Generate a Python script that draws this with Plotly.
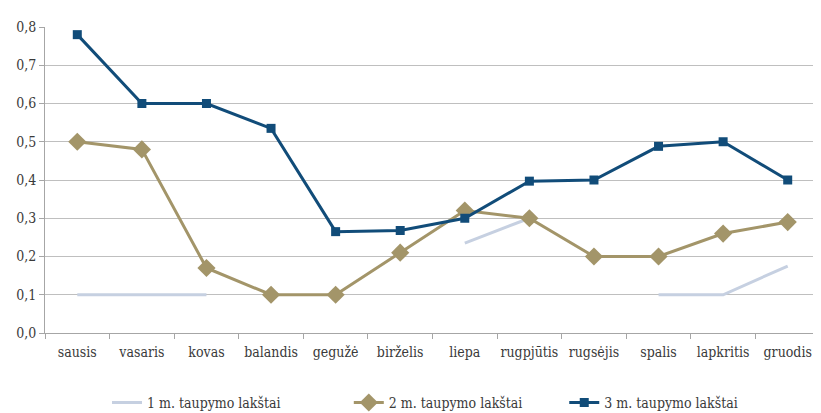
import plotly.graph_objects as go

# Data
months = ["sausis", "vasaris", "kovas", "balandis", "gegužė", "birželis",
          "liepa", "rugpjūtis", "rugsėjis", "spalis", "lapkritis", "gruodis"]
lakstai_1m = [0.1, 0.1, 0.1, None, None, None, 0.235, 0.30, None, 0.1, 0.1, 0.175]
lakstai_2m = [0.50, 0.48, 0.17, 0.10, 0.10, 0.21, 0.32, 0.30, 0.20, 0.20, 0.26, 0.29]
lakstai_3m = [0.78, 0.60, 0.60, 0.535, 0.265, 0.268, 0.30, 0.397, 0.40, 0.488, 0.50, 0.40]
y_ticks = [0.0, 0.1, 0.2, 0.3, 0.4, 0.5, 0.6, 0.7, 0.8]
y_labels = ["0,0", "0,1", "0,2", "0,3", "0,4", "0,5", "0,6", "0,7", "0,8"]

FONT = "DejaVu Serif Condensed"
TXT = "#3a3a3a"

fig = go.Figure()
fig.add_trace(go.Scatter(
    x=months, y=lakstai_1m, name="1 m. taupymo lakštai", mode="lines",
    line=dict(color="#c6d0e1", width=3), connectgaps=False, legend="legend",
))
fig.add_trace(go.Scatter(
    x=months, y=lakstai_2m, name="2 m. taupymo lakštai", mode="lines+markers",
    line=dict(color="#a39569", width=3), legend="legend2",
    marker=dict(symbol="diamond", size=14, color="#a39569"),
))
fig.add_trace(go.Scatter(
    x=months, y=lakstai_3m, name="3 m. taupymo lakštai", mode="lines+markers",
    line=dict(color="#114c79", width=3), legend="legend3",
    marker=dict(symbol="square", size=9, color="#114c79"),
))

fig.update_xaxes(
    type="category", tickson="boundaries", ticks="outside", ticklen=5,
    tickcolor="#a6a6a6", showline=True, linecolor="#a6a6a6", linewidth=1,
    showgrid=False, tickfont=dict(family=FONT, size=14, color=TXT),
    range=[-0.5, 11.5], ticklabelstandoff=6, tickangle=0,
)
fig.update_yaxes(
    range=[0, 0.8], tickvals=y_ticks, ticktext=y_labels, ticks="outside",
    ticklen=5, tickcolor="#a6a6a6", showline=True, linecolor="#a6a6a6",
    linewidth=1, gridcolor="#bfbfbf", gridwidth=1, zeroline=False,
    tickfont=dict(family=FONT, size=14, color=TXT),
)

def leg(xpos):
    return dict(orientation="h", x=xpos, xanchor="left",
                yref="container", y=0.025, yanchor="middle",
                font=dict(family=FONT, size=14, color=TXT),
                itemwidth=30, bgcolor="rgba(0,0,0,0)")

fig.update_layout(
    width=813, height=405, plot_bgcolor="white", paper_bgcolor="white",
    margin=dict(l=37, r=1, t=19, b=80, autoexpand=False),
    showlegend=True,
    legend=leg(0.080), legend2=leg(0.392), legend3=leg(0.670),
    font=dict(family=FONT),
)

fig.write_html("out.html")
